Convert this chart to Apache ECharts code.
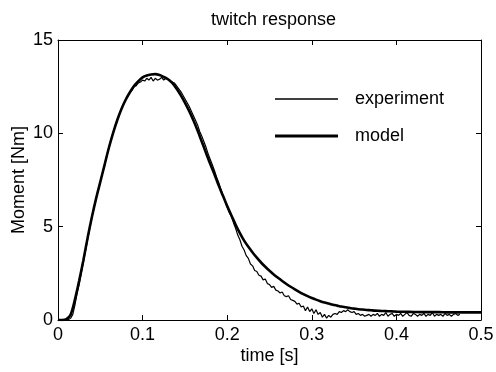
<!DOCTYPE html>
<html>
<head>
<meta charset="utf-8">
<script src="https://cdn.jsdelivr.net/npm/echarts@6/dist/echarts.min.js"></script>
<style>html,body{margin:0;padding:0;background:#fff}#c{width:496px;height:372px}</style>
</head>
<body>
<div id="c"></div>
<script>
const titleText = 'twitch response';
const xTicks = [0, 0.1, 0.2, 0.3, 0.4, 0.5];
const yTicks = [0, 5, 10, 15];

// model: t = 0 .. 0.5
const modelT = [0,0.005,0.01,0.015,0.02,0.025,0.03,0.035,0.04,0.045,0.05,0.055,0.06,0.065,0.07,0.075,0.08,0.085,0.09,0.095,
0.1,0.105,0.11,0.115,0.12,0.125,0.13,0.135,0.14,0.145,0.15,0.155,0.16,0.165,0.17,0.175,0.18,0.185,0.19,0.195,
0.2,0.205,0.21,0.215,0.22,0.225,0.23,0.235,0.24,0.245,0.25,0.255,0.26,0.265,0.27,0.275,0.28,0.285,0.29,0.295,
0.3,0.305,0.31,0.315,0.32,0.325,0.33,0.335,0.34,0.345,0.35,0.355,0.36,0.365,0.37,0.375,0.38,0.385,0.39,0.395,
0.4,0.41,0.42,0.43,0.44,0.45,0.46,0.47,0.48,0.49,0.5];
const modelM = [0,0,0.05,0.3,1.1,2.1,3.2,4.4,5.5,6.5,7.4,8.3,9.2,10.0,10.7,11.3,11.8,12.2,12.55,12.8,
13.0,13.1,13.15,13.17,13.12,13.02,12.9,12.7,12.4,12.05,11.65,11.2,10.7,10.15,9.55,8.95,8.35,7.8,7.2,6.65,
6.1,5.6,5.1,4.65,4.25,3.92,3.62,3.34,3.08,2.85,2.64,2.44,2.26,2.09,1.93,1.78,1.64,1.51,1.39,1.28,
1.18,1.09,1.01,0.94,0.88,0.82,0.77,0.72,0.68,0.64,0.61,0.58,0.56,0.54,0.52,0.5,0.49,0.48,0.47,0.46,
0.45,0.44,0.43,0.42,0.42,0.42,0.41,0.41,0.41,0.41,0.41];

// experiment: t = 0 .. 0.5 step 0.0025
const expT = [];
for (let i = 0; i <= 200; i++) expT.push(+(i * 0.0025).toFixed(4));
const expM = [0,0,0,0,0,0.02,0.1,0.3,0.8,1.4,1.9,2.5,3.1,3.7,4.3,4.9,5.5,6.0,6.5,6.95,
7.4,7.85,8.3,8.8,9.2,9.65,10.0,10.4,10.75,11.0,11.3,11.6,11.8,12.0,12.2,12.3,12.5,12.55,12.7,12.75,
12.85,12.8,12.95,12.85,13.0,12.8,12.95,12.85,12.9,13.0,12.85,12.95,12.9,12.8,12.75,12.7,12.55,12.4,12.25,12.05,
11.85,11.65,11.45,11.2,10.95,10.7,10.45,10.1,9.85,9.55,9.25,8.9,8.6,8.3,8.0,7.65,7.35,7.0,6.7,6.35,
6.05,5.75,5.55,5.2,4.9,4.55,4.3,3.95,3.75,3.45,3.3,3.0,2.9,2.65,2.6,2.4,2.35,2.15,2.2,1.95,
1.9,1.75,1.8,1.6,1.55,1.45,1.5,1.3,1.25,1.3,1.1,1.05,1.0,0.85,0.9,0.7,0.75,0.5,0.7,0.45,
0.6,0.35,0.55,0.3,0.4,0.15,0.3,0.1,0.25,0.15,0.3,0.35,0.3,0.45,0.4,0.5,0.45,0.55,0.45,0.4,
0.45,0.3,0.35,0.25,0.3,0.2,0.25,0.3,0.2,0.3,0.25,0.35,0.2,0.3,0.25,0.4,0.2,0.3,0.35,0.2,
0.3,0.25,0.35,0.2,0.3,0.4,0.25,0.2,0.35,0.3,0.2,0.3,0.25,0.35,0.2,0.3,0.25,0.4,0.2,0.3,
0.25,0.3,0.2,0.35,0.25,0.3,0.2,0.3,0.35,0.25,0.3];

const chart = echarts.init(document.getElementById('c'), null, {renderer: 'canvas'});
const font = 'Liberation Sans, Arial, Helvetica, sans-serif';
const fs = 18;
const axisCommon = {
  type: 'value', splitLine: {show: false},
  axisLine: {show: true, onZero: false, lineStyle: {color: '#000', width: 1}},
  axisTick: {show: true, inside: true, length: 5, lineStyle: {color: '#000'}},
};
chart.setOption({
  animation: false,
  backgroundColor: '#fff',
  textStyle: {fontFamily: font},
  title: {text: titleText, left: 206, top: 6,
    textStyle: {fontFamily: font, fontWeight: 'normal', fontSize: fs, color: '#000'}},
  grid: {left: 58, right: 15, top: 40, bottom: 52, containLabel: false, outerBoundsMode: 'none'},
  legend: {
    orient: 'vertical', left: 270, top: 85, itemGap: 19, itemWidth: 63, itemHeight: 18,
    textStyle: {fontFamily: font, fontSize: fs, color: '#000', padding: [0, 0, 0, 12]},
    data: [
      {name: 'experiment', icon: 'path://M0,0 L63,0 L63,1.5 L0,1.5 Z', itemStyle: {color: '#000'}},
      {name: 'model', icon: 'path://M0,0 L63,0 L63,3 L0,3 Z', itemStyle: {color: '#000'}}
    ]
  },
  xAxis: [
    Object.assign({}, axisCommon, {min: 0, max: 0.5, interval: 0.1, position: 'bottom',
      name: 'time [s]', nameLocation: 'middle', nameGap: 27, nameMoveOverlap: false,
      nameTextStyle: {fontFamily: font, fontSize: fs, color: '#000'},
      axisLabel: {fontFamily: font, fontSize: fs, color: '#000', margin: 6,
        formatter: v => (xTicks.indexOf(+v.toFixed(1)) >= 0 ? String(+v.toFixed(1)) : '')}}),
    Object.assign({}, axisCommon, {min: 0, max: 0.5, interval: 0.1, position: 'top', axisLabel: {show: false}})
  ],
  yAxis: [
    Object.assign({}, axisCommon, {min: 0, max: 15, interval: 5, position: 'left',
      name: 'Moment [Nm]', nameLocation: 'middle', nameGap: 30, nameMoveOverlap: false,
      nameTextStyle: {fontFamily: font, fontSize: fs, color: '#000'},
      axisLabel: {fontFamily: font, fontSize: fs, color: '#000', margin: 5,
        formatter: v => (yTicks.indexOf(v) >= 0 ? String(v) : '')}}),
    Object.assign({}, axisCommon, {min: 0, max: 15, interval: 5, position: 'right', axisLabel: {show: false}})
  ],
  series: [
    {name: 'experiment', type: 'line', showSymbol: false, symbol: 'none',
      data: expT.map((t, i) => [t, expM[i]]),
      lineStyle: {color: '#000', width: 1.2}, itemStyle: {color: '#000'}},
    {name: 'model', type: 'line', showSymbol: false, symbol: 'none', smooth: 0.3,
      data: modelT.map((t, i) => [t, modelM[i]]),
      lineStyle: {color: '#000', width: 2.6}, itemStyle: {color: '#000'}}
  ]
});
</script>
</body>
</html>
